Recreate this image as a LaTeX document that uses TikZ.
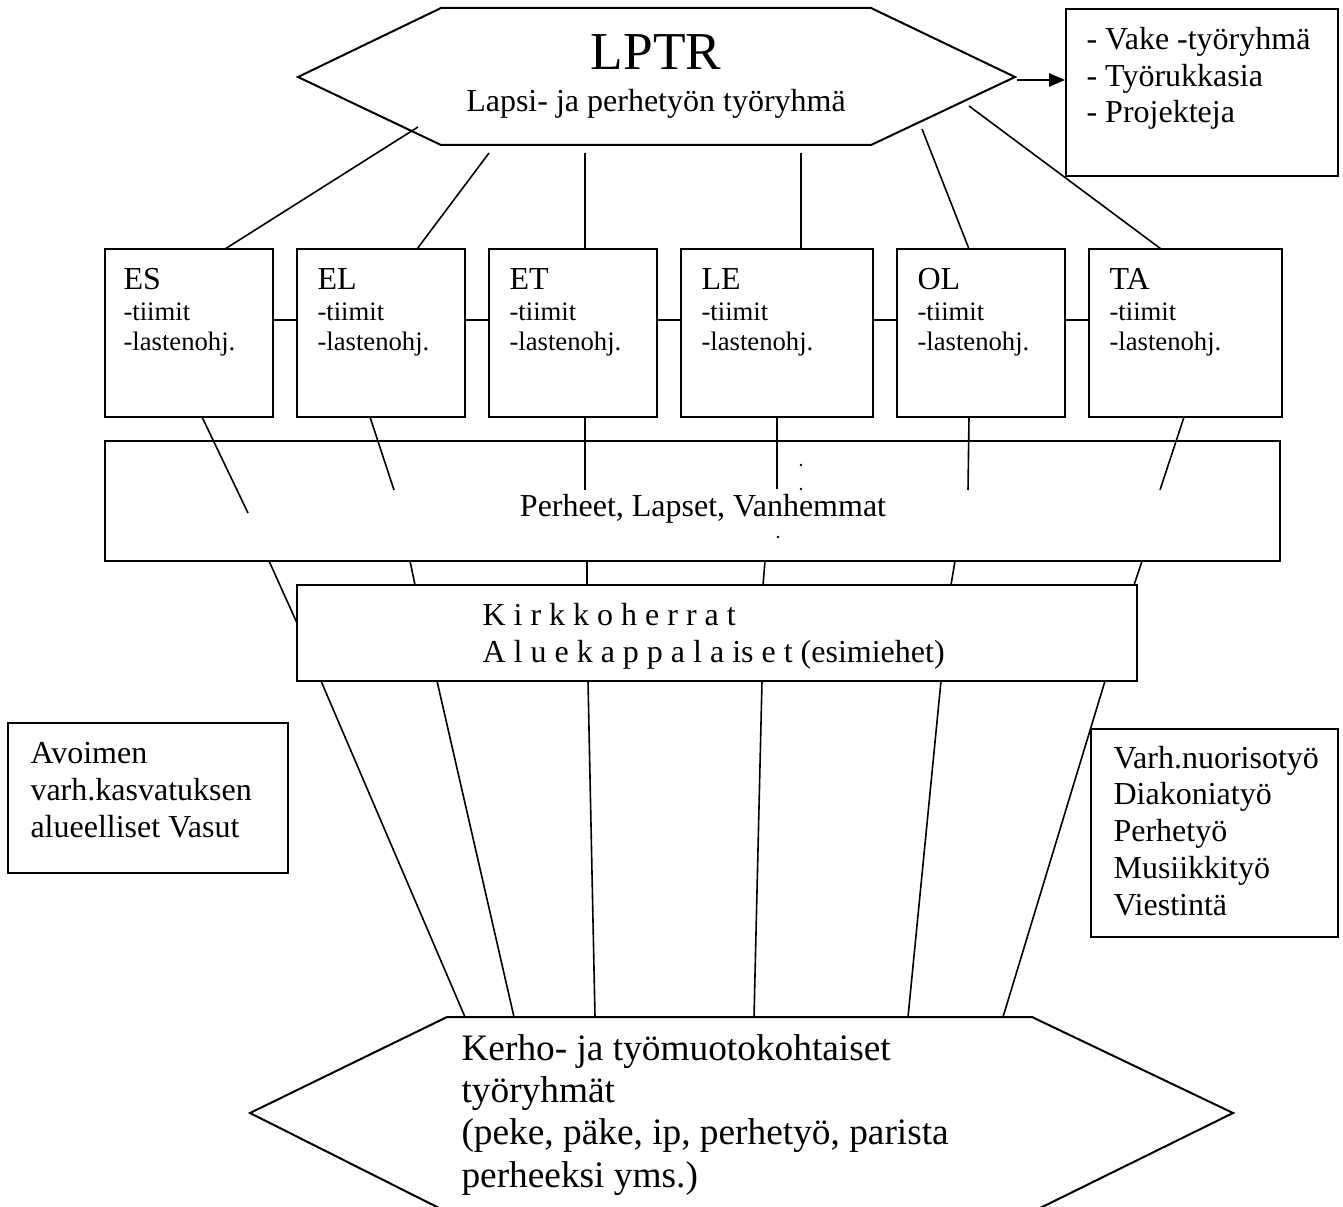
\documentclass[tikz,border=0pt]{standalone}
\usepackage{fontspec}
\setmainfont{Liberation Serif}
\usetikzlibrary{arrows.meta,fit}
\newcommand\stk[1]{\vtop{\halign{##\hfil\cr#1\crcr}}}
\begin{document}
\begin{tikzpicture}[x=0.375pt,y=-0.375pt,
  box/.style={draw,line width=0.75pt,inner sep=0pt},
  conn/.style={line width=0.6pt},
  txt/.style={inner sep=0pt,anchor=base west,font=\fontsize{12}{13.8}\selectfont},
  sub/.style={inner sep=0pt,anchor=base west,font=\fontsize{10}{11.4}\selectfont},
]
\useasboundingbox (0,0) rectangle (1343,1207);

% ---------- top hexagon ----------
\draw[box] (298,77) coordinate (hL) -- (441,8) -- (871,8) -- (1015,77) coordinate (hR)
  -- (871,145) -- (441,145) -- cycle;
\node[inner sep=0pt,anchor=base,font=\fontsize{20}{24}\selectfont] (lptr) at (656,70) {LPTR};
\node[inner sep=0pt,anchor=base,font=\fontsize{12}{13.8}\selectfont] (lptrsub) at (656,112) {Lapsi- ja perhetyön työryhmä};

% ---------- top right box ----------
\node[box,fit={(1066,9) (1338,176)}] (vake) {};
\node[txt,font=\fontsize{12}{13.6}\selectfont] (vaketxt) at (1086,50) {\stk{- Vake -työryhmä\cr - Työrukkasia\cr - Projekteja}};
\coordinate (arrS) at (1017,80);
\draw[conn,-{Triangle[length=6pt,width=5pt]}] (arrS) -- (arrS -| vake.west);

% ---------- row of boxes ----------
\node[box,fit={(105,249) (273,417)}] (es) {};
\node[box,fit={(297,249) (465,417)}] (el) {};
\node[box,fit={(489,249) (657,417)}] (et) {};
\node[box,fit={(681,249) (873,417)}] (le) {};
\node[box,fit={(897,249) (1065,417)}] (ol) {};
\node[box,fit={(1089,249) (1282,417)}] (ta) {};

\node[sub] (estxt) at (123,290) {\stk{\fontsize{12}{13.8}\selectfont ES\cr -tiimit\cr -lastenohj.}};
\node[sub] (eltxt) at (317,290) {\stk{\fontsize{12}{13.8}\selectfont EL\cr -tiimit\cr -lastenohj.}};
\node[sub] (ettxt) at (509,290) {\stk{\fontsize{12}{13.8}\selectfont ET\cr -tiimit\cr -lastenohj.}};
\node[sub] (letxt) at (701,290) {\stk{\fontsize{12}{13.8}\selectfont LE\cr -tiimit\cr -lastenohj.}};
\node[sub] (oltxt) at (917,290) {\stk{\fontsize{12}{13.8}\selectfont OL\cr -tiimit\cr -lastenohj.}};
\node[sub] (tatxt) at (1109,290) {\stk{\fontsize{12}{13.8}\selectfont TA\cr -tiimit\cr -lastenohj.}};

\draw[conn] (es.east|-0,320) -- (el.west|-0,320);
\draw[conn] (el.east|-0,320) -- (et.west|-0,320);
\draw[conn] (et.east|-0,320) -- (le.west|-0,320);
\draw[conn] (le.east|-0,320) -- (ol.west|-0,320);
\draw[conn] (ol.east|-0,320) -- (ta.west|-0,320);

% hexagon -> row boxes
\coordinate (t1) at (418,127); \coordinate (b1) at (225,249);
\coordinate (t2) at (489,153); \coordinate (b2) at (417,249);
\coordinate (t3) at (585,153); \coordinate (b3) at (585,249);
\coordinate (t4) at (801,153); \coordinate (b4) at (801,249);
\coordinate (t5) at (922,129); \coordinate (b5) at (969,249);
\coordinate (t6) at (969,106); \coordinate (b6) at (1161,249);
\foreach \i in {1,...,6} \draw[conn] (t\i) -- (b\i);

% ---------- Perheet box ----------
\node[box,line width=0.85pt,fit={(105,441) (1280,561)}] (perh) {};
\node[inner sep=0pt,anchor=base,font=\fontsize{12}{13.8}\selectfont] (perhtxt) at (703,517) {Perheet, Lapset, Vanhemmat};

% row boxes -> into Perheet
\coordinate (r1) at (202,417); \coordinate (s1) at (248,513);
\coordinate (r2) at (370,417); \coordinate (s2) at (394,490);
\coordinate (r3) at (585,417); \coordinate (s3) at (585,490);
\coordinate (r4) at (777,417); \coordinate (s4) at (777,489);
\coordinate (r5) at (969,417); \coordinate (s5) at (968,490);
\coordinate (r6) at (1184,417); \coordinate (s6) at (1160,490);
\foreach \i in {1,...,6} \draw[conn] (r\i) -- (s\i);

\fill (801,465) circle (0.5pt);
\fill (801,489) circle (0.5pt);
\fill (778,537) circle (0.5pt);

% ---------- Kirkkoherrat box ----------
\node[box,line width=0.85pt,fit={(297,585) (1137,681)}] (kirk) {};
\node[txt,font=\fontsize{12}{13.9}\selectfont] (kirktxt) at (482,625) {\stk{K i r k k o h e r r a t\cr A l u e k a p p a l a is e t (esimiehet)}};

% Perheet -> Kirkkoherrat
\coordinate (p1) at (269,561); \coordinate (q1) at (297,623);
\coordinate (p2) at (410,561); \coordinate (q2) at (415,585);
\coordinate (p3) at (587,561); \coordinate (q3) at (587,585);
\coordinate (p4) at (765,561); \coordinate (q4) at (763,585);
\coordinate (p5) at (955,561); \coordinate (q5) at (951,585);
\coordinate (p6) at (1142,561); \coordinate (q6) at (1134,585);
\foreach \i in {1,...,6} \draw[conn] (p\i) -- (q\i);

% ---------- side boxes ----------
\node[box,fit={(8,723) (288,873)}] (avo) {};
\node[txt,font=\fontsize{12}{13.9}\selectfont] (avotxt) at (30,763) {\stk{Avoimen\cr varh.kasvatuksen\cr alueelliset Vasut}};

\node[box,fit={(1091,729) (1338,937)}] (varh) {};
\node[txt,font=\fontsize{12}{13.8}\selectfont] (varhtxt) at (1113,768) {\stk{Varh.nuorisotyö\cr Diakoniatyö\cr Perhetyö\cr Musiikkityö\cr Viestintä}};

% ---------- bottom hexagon ----------
\draw[box] (250,1113) -- (447,1017) -- (1032,1017) -- (1233,1113) -- (1032,1212) -- (447,1212) -- cycle;
\node[inner sep=0pt,anchor=base west,font=\fontsize{14}{15.9}\selectfont] (kerho) at (461,1060)
  {\stk{Kerho- ja työmuotokohtaiset\cr työryhmät\cr (peke, päke, ip, perhetyö, parista\cr perheeksi yms.)}};

% Kirkkoherrat -> bottom hexagon
\coordinate (k1) at (321,681); \coordinate (m1) at (465,1017);
\coordinate (k2) at (437,681); \coordinate (m2) at (514,1017);
\coordinate (k3) at (588,681); \coordinate (m3) at (595,1017);
\coordinate (k4) at (762,681); \coordinate (m4) at (754,1017);
\coordinate (k5) at (941,681); \coordinate (m5) at (908,1017);
\coordinate (k6) at (1105,681); \coordinate (m6) at (1003,1017);
\foreach \i in {1,...,6} \draw[conn] (k\i) -- (m\i);
\end{tikzpicture}
\end{document}
